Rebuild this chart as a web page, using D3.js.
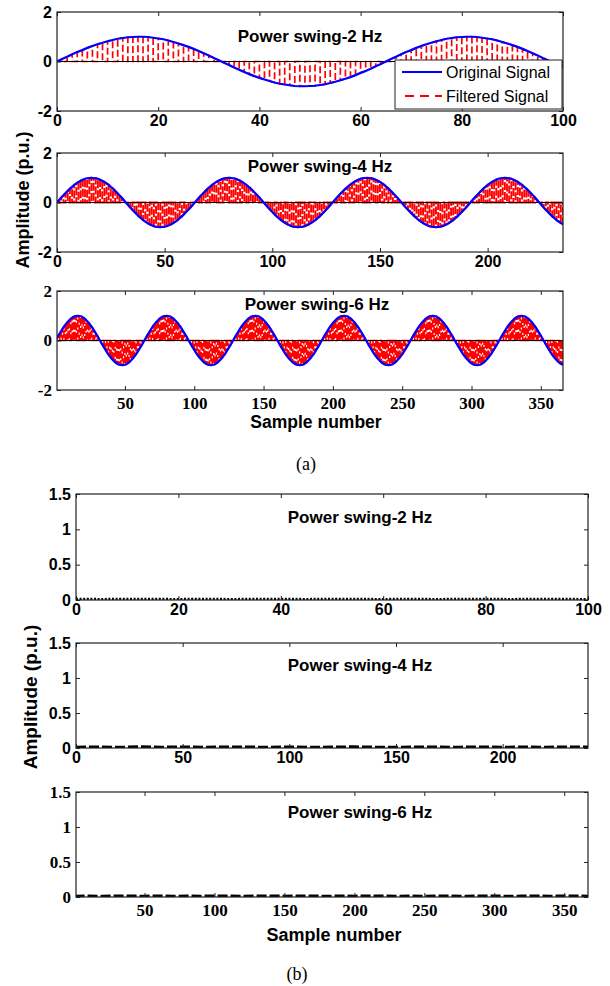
<!DOCTYPE html>
<html><head><meta charset="utf-8">
<script src="https://cdn.jsdelivr.net/npm/d3@7"></script>
<style>body{margin:0;background:#fff}svg{display:block}</style>
</head><body><svg id="c" width="610" height="986"></svg>
<script>
// ---------------- DATA ----------------
const titles = ["Power swing-2 Hz", "Power swing-4 Hz", "Power swing-6 Hz"];
const legendLabels = ["Original Signal", "Filtered Signal"];
const yLabel = "Amplitude (p.u.)";
const xLabel = "Sample number";
const captions = ["(a)", "(b)"];

// panel (a) signals: one value per sample, first sample index given by *Start
const sig2Start = 0;
const sig2 = [0,.1,.19,.29,.38,.46,.55,.63,.7,.76,.82,.87,.92,.95,.98,.99,1,1,.99,.96,.93,.9,.85,.79,.73,.66,.59,.51,.42,.33,.24,.14,.05,-.05,-.14,-.24,-.33,-.42,-.51,-.59,-.66,-.73,-.79,-.85,-.9,-.93,-.96,-.99,-1,-1,-.99,-.98,-.95,-.92,-.87,-.82,-.76,-.7,-.63,-.55,-.46,-.38,-.29,-.19,-.1,
0,.1,.19,.29,.38,.46,.55,.63,.7,.76,.82,.87,.92,.95,.98,.99,1,1,.99,.96,.93,.9,.85,.79,.73,.66,.59,.51,.42,.33,.24,.14,.05,-.05,-.14,-.24];
const sig4Start = 0;
const sig4 = [0,.1,.2,.29,.38,.47,.56,.63,.71,.77,.83,.88,.92,.96,.98,.99,1,.99,.98,.96,.92,.88,.83,.77,.71,.63,.56,.47,.38,.29,.2,.1,0,-.1,-.2,-.29,-.38,-.47,-.56,-.63,-.71,-.77,-.83,-.88,-.92,-.96,-.98,-.99,-1,-.99,-.98,-.96,-.92,-.88,-.83,-.77,-.71,-.63,-.56,-.47,-.38,-.29,-.2,-.1,
0,.1,.2,.29,.38,.47,.56,.63,.71,.77,.83,.88,.92,.96,.98,.99,1,.99,.98,.96,.92,.88,.83,.77,.71,.63,.56,.47,.38,.29,.2,.1,0,-.1,-.2,-.29,-.38,-.47,-.56,-.63,-.71,-.77,-.83,-.88,-.92,-.96,-.98,-.99,-1,-.99,-.98,-.96,-.92,-.88,-.83,-.77,-.71,-.63,-.56,-.47,-.38,-.29,-.2,-.1,
0,.1,.2,.29,.38,.47,.56,.63,.71,.77,.83,.88,.92,.96,.98,.99,1,.99,.98,.96,.92,.88,.83,.77,.71,.63,.56,.47,.38,.29,.2,.1,0,-.1,-.2,-.29,-.38,-.47,-.56,-.63,-.71,-.77,-.83,-.88,-.92,-.96,-.98,-.99,-1,-.99,-.98,-.96,-.92,-.88,-.83,-.77,-.71,-.63,-.56,-.47,-.38,-.29,-.2,-.1,
0,.1,.2,.29,.38,.47,.56,.63,.71,.77,.83,.88,.92,.96,.98,.99,1,.99,.98,.96,.92,.88,.83,.77,.71,.63,.56,.47,.38,.29,.2,.1,0,-.1,-.2,-.29,-.38,-.47,-.56,-.63,-.71,-.77,-.83,-.88];
const sig6Start = 1;
const sig6 = [.1,.2,.29,.38,.47,.56,.63,.71,.77,.83,.88,.92,.96,.98,.99,1,.99,.98,.96,.92,.88,.83,.77,.71,.63,.56,.47,.38,.29,.2,.1,0,-.1,-.2,-.29,-.38,-.47,-.56,-.63,-.71,-.77,-.83,-.88,-.92,-.96,-.98,-.99,-1,-.99,-.98,-.96,-.92,-.88,-.83,-.77,-.71,-.63,-.56,-.47,-.38,-.29,-.2,-.1,
0,.1,.2,.29,.38,.47,.56,.63,.71,.77,.83,.88,.92,.96,.98,.99,1,.99,.98,.96,.92,.88,.83,.77,.71,.63,.56,.47,.38,.29,.2,.1,0,-.1,-.2,-.29,-.38,-.47,-.56,-.63,-.71,-.77,-.83,-.88,-.92,-.96,-.98,-.99,-1,-.99,-.98,-.96,-.92,-.88,-.83,-.77,-.71,-.63,-.56,-.47,-.38,-.29,-.2,-.1,
0,.1,.2,.29,.38,.47,.56,.63,.71,.77,.83,.88,.92,.96,.98,.99,1,.99,.98,.96,.92,.88,.83,.77,.71,.63,.56,.47,.38,.29,.2,.1,0,-.1,-.2,-.29,-.38,-.47,-.56,-.63,-.71,-.77,-.83,-.88,-.92,-.96,-.98,-.99,-1,-.99,-.98,-.96,-.92,-.88,-.83,-.77,-.71,-.63,-.56,-.47,-.38,-.29,-.2,-.1,
0,.1,.2,.29,.38,.47,.56,.63,.71,.77,.83,.88,.92,.96,.98,.99,1,.99,.98,.96,.92,.88,.83,.77,.71,.63,.56,.47,.38,.29,.2,.1,0,-.1,-.2,-.29,-.38,-.47,-.56,-.63,-.71,-.77,-.83,-.88,-.92,-.96,-.98,-.99,-1,-.99,-.98,-.96,-.92,-.88,-.83,-.77,-.71,-.63,-.56,-.47,-.38,-.29,-.2,-.1,
0,.1,.2,.29,.38,.47,.56,.63,.71,.77,.83,.88,.92,.96,.98,.99,1,.99,.98,.96,.92,.88,.83,.77,.71,.63,.56,.47,.38,.29,.2,.1,0,-.1,-.2,-.29,-.38,-.47,-.56,-.63,-.71,-.77,-.83,-.88,-.92,-.96,-.98,-.99,-1,-.99,-.98,-.96,-.92,-.88,-.83,-.77,-.71,-.63,-.56,-.47,-.38,-.29,-.2,-.1,
0,.1,.2,.29,.38,.47,.56,.63,.71,.77,.83,.88,.92,.96,.98,.99,1,.99,.98,.96,.92,.88,.83,.77,.71,.63,.56,.47,.38,.29,.2,.1,0,-.1,-.2,-.29,-.38,-.47,-.56,-.63,-.71,-.77,-.83,-.88,-.92,-.96,-.98];

// panel (b) residual amplitude, sampled every errStep samples starting at 0
const errStep2 = 5;
const err2 = [.014,.012,.014,.013,.012,.014,.012,.013,.014,.012,.014,.013,.012,.014,.012,.013,.014,.012,.014,.013,.012];
const errStep4 = 10;
const err4 = [.012,.014,.01,.017,.012,.014,.011,.016,.013,.012,.015,.01,.014,.017,.012,.011,.015,.013,.012,.016,.011,.014,.012,.015,.013];
const errStep6 = 10;
const err6 = [.012,.014,.011,.015,.013,.012,.016,.011,.014,.012,.015,.013,.011,.014,.016,.012,.013,.015,.011,.014,.012,.016,.013,.012,.014,.011,.015,.013,.012,.016,.014,.011,.013,.015,.012,.014,.013,.012];

// axis domains and ticks
const xDomA = [[0, 100], [0, 235], [1, 366]];
const xDomB = [[0, 100], [0, 240], [1, 367]];
const xTicks1 = [0, 20, 40, 60, 80, 100];
const xTicks2 = [0, 50, 100, 150, 200];
const xTicks3 = [50, 100, 150, 200, 250, 300, 350];
const yDomA = [-2, 2];
const yTicksA = [-2, 0, 2];
const yDomB = [0, 1.5];
const yTicksB = [0, 0.5, 1, 1.5];

// ---------------- LAYOUT ----------------
const SANS = "'Liberation Sans', Arial, sans-serif";
const SERIF = "'Liberation Serif', 'Times New Roman', serif";
const svg = d3.select("#c");
const boxesA = [[57, 563, 12, 111], [57, 563, 153, 252], [57, 563, 291, 390]];
const boxesB = [[76, 588, 494, 600], [76, 588, 643, 748], [76, 588, 792, 897]];
const xTicksAll = [xTicks1, xTicks2, xTicks3];
const sigs = [[sig2Start, sig2], [sig4Start, sig4], [sig6Start, sig6]];
const errs = [[errStep2, err2], [errStep4, err4], [errStep6, err6]];
const titleXA = [310, 320, 317];
const titleYA = [42, 172, 310];
const titleYB = [523, 671, 818];
const fmt = d => String(d);

let clipId = 0;
function drawPanel(box, xDom, yDom, xTicks, yTicks, serif) {
  const [l, r, t, b] = box;
  const x = d3.scaleLinear().domain(xDom).range([l, r]);
  const y = d3.scaleLinear().domain(yDom).range([b, t]);
  const id = "clip" + (clipId++);
  svg.append("clipPath").attr("id", id).append("rect")
    .attr("x", l).attr("y", t).attr("width", r - l).attr("height", b - t);
  const g = svg.append("g");
  const plot = g.append("g").attr("clip-path", `url(#${id})`);
  const fam = serif ? SERIF : SANS;
  const fs = serif ? 17 : 16;
  const styleAxis = (sel) => {
    sel.select(".domain").remove();
    sel.attr("font-family", fam);
    sel.selectAll(".tick line").attr("stroke", "#222").attr("stroke-width", 1);
    sel.selectAll("text").attr("fill", "#000")
      .style("font-family", fam).style("font-size", fs + "px").style("font-weight", "bold");
  };
  const axes = g.append("g");
  axes.append("g").attr("transform", `translate(0,${b})`)
    .call(d3.axisBottom(x).tickValues(xTicks).tickSizeInner(-4).tickSizeOuter(0).tickPadding(serif ? 7 : 4).tickFormat(fmt))
    .call(styleAxis);
  axes.append("g").attr("transform", `translate(0,${t})`)
    .call(d3.axisTop(x).tickValues(xTicks).tickSizeInner(-4).tickSizeOuter(0).tickFormat(""))
    .call(styleAxis);
  axes.append("g").attr("transform", `translate(${l},0)`)
    .call(d3.axisLeft(y).tickValues(yTicks).tickSizeInner(-4).tickSizeOuter(0).tickPadding(5).tickFormat(fmt))
    .call(styleAxis);
  axes.append("g").attr("transform", `translate(${r},0)`)
    .call(d3.axisRight(y).tickValues(yTicks).tickSizeInner(-4).tickSizeOuter(0).tickFormat(""))
    .call(styleAxis);
  g.append("rect").attr("x", l).attr("y", t).attr("width", r - l).attr("height", b - t)
    .attr("fill", "none").attr("stroke", "#222").attr("stroke-width", 1.2);
  return { x, y, plot, g };
}

// ----- (a) -----
sigs.forEach(([start, vals], k) => {
  const P = drawPanel(boxesA[k], xDomA[k], yDomA, xTicksAll[k], yTicksA, k === 2);
  const { x, y, plot } = P;
  const pts = vals.map((v, i) => [start + i, v]);
  // filtered signal: red dashed zig-zag stems
  const zig = [];
  pts.forEach(([n, v], i) => {
    if (i % 2 === 0) { zig.push([n, 0], [n, v]); } else { zig.push([n, v], [n, 0]); }
  });
  const line = d3.line().x(d => x(d[0])).y(d => y(d[1]));
  plot.append("path").attr("d", line(zig)).attr("fill", "none")
    .attr("stroke", "#ff0000").attr("stroke-width", k === 0 ? 1.7 : (k === 1 ? 1.9 : 1.6))
    .attr("stroke-dasharray", k === 0 ? "7,3" : "8,2");
  // zero line
  plot.append("line").attr("x1", x(xDomA[k][0])).attr("x2", x(xDomA[k][1]))
    .attr("y1", y(0)).attr("y2", y(0)).attr("stroke", "#000").attr("stroke-width", 1);
  // original signal
  plot.append("path").attr("d", line(pts)).attr("fill", "none")
    .attr("stroke", "#0000ff").attr("stroke-width", 2.2);
  P.g.append("text").attr("x", titleXA[k]).attr("y", titleYA[k]).attr("text-anchor", "middle")
    .attr("font-family", SANS).attr("font-weight", "bold").attr("font-size", 17).text(titles[k]);
  if (k === 0) {
    const lg = P.g.append("g");
    lg.append("rect").attr("x", 395).attr("y", 60).attr("width", 167).attr("height", 49)
      .attr("fill", "#fff").attr("stroke", "#222").attr("stroke-width", 1);
    lg.append("line").attr("x1", 402).attr("x2", 442).attr("y1", 72).attr("y2", 72)
      .attr("stroke", "#0000ff").attr("stroke-width", 2.2);
    lg.append("line").attr("x1", 402).attr("x2", 442).attr("y1", 96).attr("y2", 96)
      .attr("stroke", "#ff0000").attr("stroke-width", 2).attr("stroke-dasharray", "9,6").attr("stroke-dashoffset", -3);
    lg.selectAll("text.lg").data(legendLabels).join("text")
      .attr("x", 446).attr("y", (d, i) => 78 + i * 24)
      .attr("font-family", SANS).attr("font-size", 16).text(d => d);
  }
});
svg.append("text").attr("transform", "translate(29,200) rotate(-90)").attr("text-anchor", "middle")
  .attr("font-family", SANS).attr("font-weight", "bold").attr("font-size", 18).text(yLabel);
svg.append("text").attr("x", 316).attr("y", 428).attr("text-anchor", "middle")
  .attr("font-family", SANS).attr("font-weight", "bold").attr("font-size", 17.5).text(xLabel);
svg.append("text").attr("x", 306).attr("y", 470).attr("text-anchor", "middle")
  .attr("font-family", SERIF).attr("font-size", 18).text(captions[0]);

// ----- (b) -----
errs.forEach(([step, vals], k) => {
  const P = drawPanel(boxesB[k], xDomB[k], yDomB, xTicksAll[k], yTicksB, k === 2);
  const { x, y, plot } = P;
  const pts = vals.map((v, i) => [i * step, v]);
  const line = d3.line().x(d => x(d[0])).y(d => y(d[1]));
  plot.append("path").attr("d", line(pts)).attr("fill", "none")
    .attr("stroke", "#000").attr("stroke-width", k === 0 ? 2.5 : 3)
    .attr("stroke-dasharray", k === 0 ? "2,1.6" : "10,3");
  P.g.append("text").attr("x", 360).attr("y", titleYB[k]).attr("text-anchor", "middle")
    .attr("font-family", SANS).attr("font-weight", "bold").attr("font-size", 17).text(titles[k]);
});
svg.append("text").attr("transform", "translate(37,697) rotate(-90)").attr("text-anchor", "middle")
  .attr("font-family", SANS).attr("font-weight", "bold").attr("font-size", 19).text(yLabel);
svg.append("text").attr("x", 334).attr("y", 941).attr("text-anchor", "middle")
  .attr("font-family", SANS).attr("font-weight", "bold").attr("font-size", 18).text(xLabel);
svg.append("text").attr("x", 297).attr("y", 980).attr("text-anchor", "middle")
  .attr("font-family", SERIF).attr("font-size", 18).text(captions[1]);
</script></body></html>
